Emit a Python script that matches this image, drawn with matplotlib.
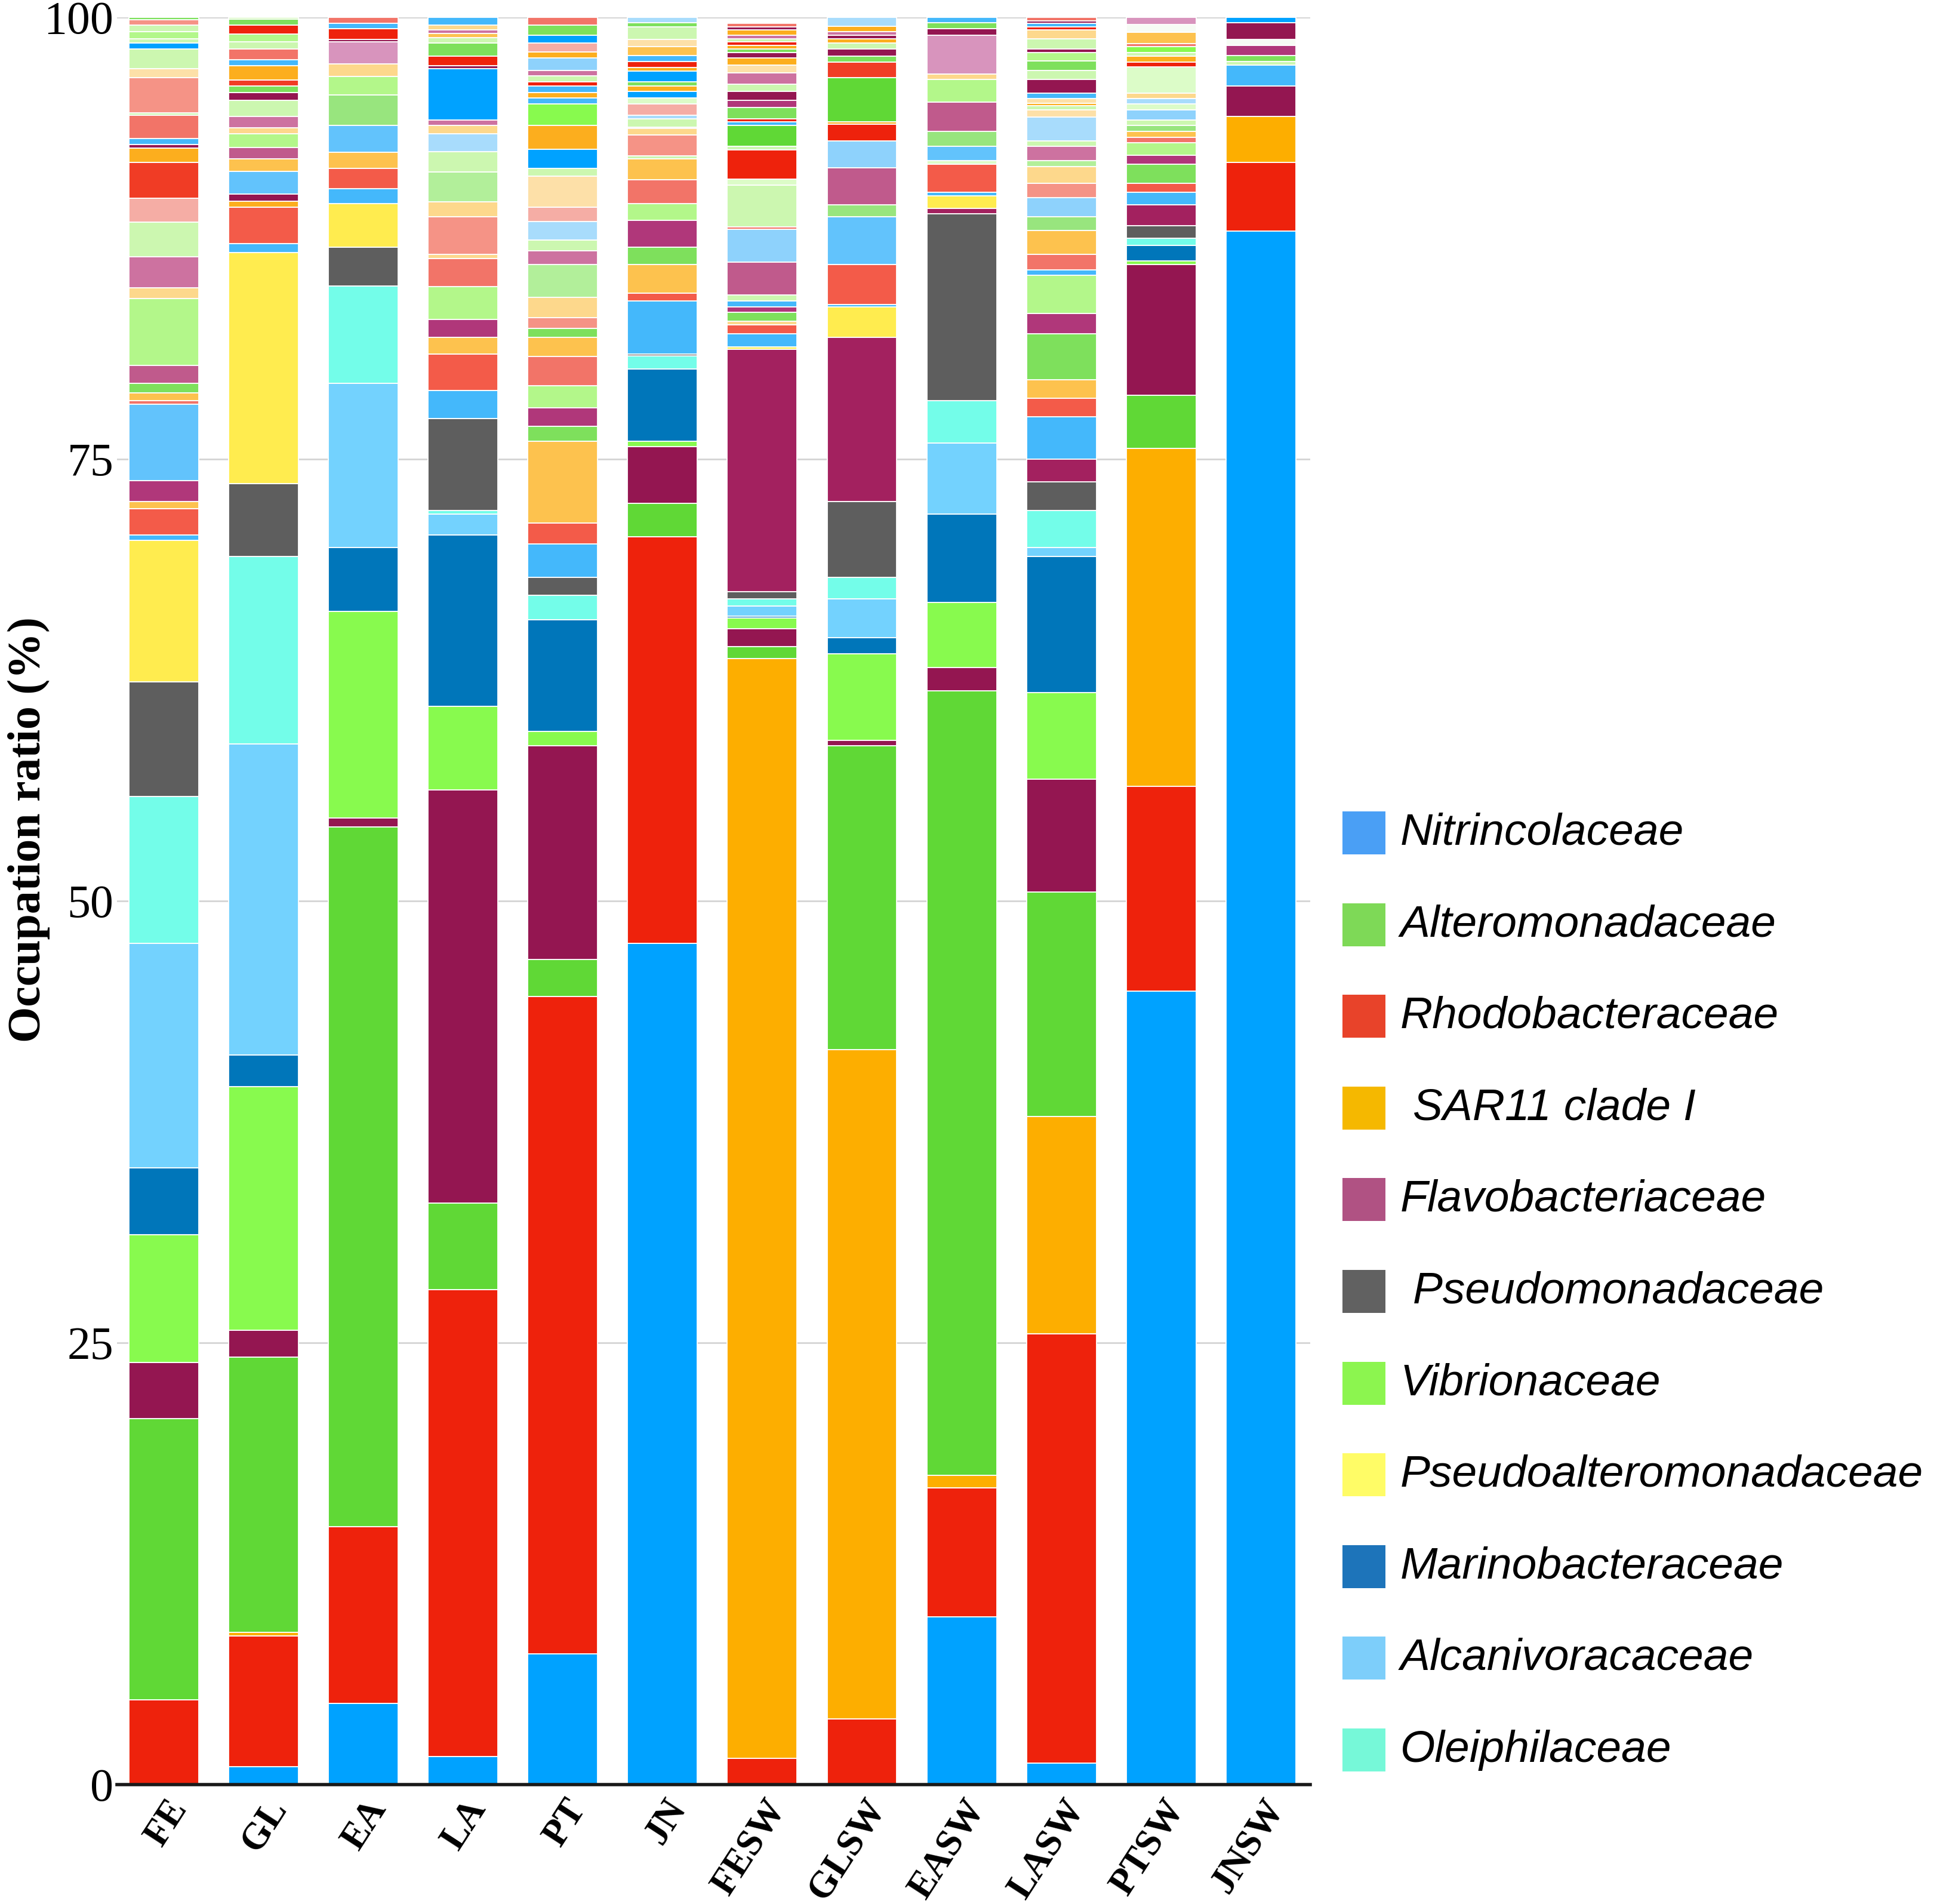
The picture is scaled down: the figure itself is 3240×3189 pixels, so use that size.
import numpy as np
import matplotlib
matplotlib.use("Agg")
import matplotlib.pyplot as plt
from matplotlib.patches import Rectangle
from matplotlib.transforms import ScaledTranslation

# sample sites on the x axis
samples = ["FE", "GL", "EA", "LA", "PT", "JN", "FESW", "GLSW", "EASW", "LASW", "PTSW", "JNSW"]

# main families (%), stacked from the bottom in this order
nitrincolaceae         = [0.0, 1.0, 4.6, 1.6, 7.4, 47.6, 0.0, 0.0, 9.5, 1.2, 44.9, 87.9]
rhodobacteraceae       = [4.8, 7.4, 10.0, 26.4, 37.2, 23.0, 1.5, 3.7, 7.3, 24.3, 11.6, 3.9]
sar11_clade_i          = [0.0, 0.2, 0.0, 0.0, 0.0, 0.0, 62.2, 37.9, 0.7, 12.3, 19.1, 2.6]
alteromonadaceae       = [15.9, 15.6, 39.6, 4.9, 2.1, 1.9, 0.7, 17.2, 44.4, 12.7, 3.0, 0.0]
flavobacteriaceae      = [3.2, 1.5, 0.5, 23.4, 12.1, 3.2, 1.0, 0.3, 1.3, 6.4, 7.4, 1.7]
vibrionaceae           = [7.2, 13.8, 11.7, 4.7, 0.8, 0.3, 0.6, 4.9, 3.7, 4.9, 0.2, 0.0]
marinobacteraceae      = [3.8, 1.8, 3.6, 9.7, 6.3, 4.1, 0.1, 0.9, 5.0, 7.7, 0.9, 0.0]
alcanivoracaceae       = [12.7, 17.6, 9.3, 1.2, 0.0, 0.0, 0.6, 2.2, 4.0, 0.5, 0.0, 0.0]
oleiphilaceae          = [8.3, 10.6, 5.5, 0.2, 1.4, 0.75, 0.4, 1.2, 2.4, 2.1, 0.4, 0.0]
pseudomonadaceae       = [6.5, 4.1, 2.2, 5.2, 1.0, 0.1, 0.4, 4.3, 10.6, 1.6, 0.7, 0.0]
unlabelled_family      = [0.0, 0.0, 0.0, 0.0, 0.0, 0.0, 13.7, 9.3, 0.3, 1.3, 1.2, 0.0]
pseudoalteromonadaceae = [8.0, 13.1, 2.45, 0.0, 0.0, 0.0, 0.15, 1.7, 0.7, 0.0, 0.0, 0.0]

# minor families on top of each bar (heights in %, bottom to top) and their colour keys
fe_minor = [0.3, 1.5, 0.4, 1.2, 4.3, 0.2, 0.45, 0.55, 1.0, 3.8, 0.6, 1.75, 1.95, 1.35, 2.05,
            0.8, 0.2, 0.35, 1.3, 0.15, 2.0, 0.5, 1.1, 0.35, 0.25, 0.4, 0.35, 0.3, 0.15]
fe_minor_keys = ["azure", "coral", "amber", "plum", "azure2", "salmon", "amber", "grass", "mauve",
                 "mint", "peach", "orchid", "pale", "blush", "scarlet", "tang", "maroon", "azure",
                 "salmon", "pale", "rose", "cream", "pale", "blue", "pale", "mint", "pale", "rose", "grass"]

gl_minor = [0.5, 2.05, 0.35, 0.4, 1.3, 0.7, 0.65, 0.75, 0.35, 0.65, 0.9, 0.45, 0.35, 0.35, 0.8,
            0.35, 0.6, 0.4, 0.45, 0.5, 0.35, 0.1]
gl_minor_keys = ["azure", "coral", "tang", "maroon", "azure2", "amber", "mauve", "mint", "peach",
                 "orchid", "pale", "maroon", "grass", "scarlet", "tang", "azure", "salmon", "pale",
                 "mint", "red", "grass", "pale"]

ea_minor = [0.85, 1.15, 0.9, 1.55, 1.7, 1.05, 0.7, 1.25, 0.15, 0.6, 0.3, 0.35]
ea_minor_keys = ["azure", "coral", "amber", "azure2", "fern", "mint", "peach", "lilac", "maroon",
                 "red", "azure", "salmon"]

la_minor = [1.6, 2.05, 0.95, 1.0, 1.85, 1.6, 0.25, 2.1, 0.85, 1.7, 1.15, 1.0, 0.5, 0.3, 2.9,
            0.15, 0.55, 0.75, 0.3, 0.25, 0.2, 0.25, 0.45]
la_minor_keys = ["azure", "coral", "amber", "plum", "mint", "salmon", "peach", "rose", "peach",
                 "sage", "pale", "ice", "peach", "orchid", "blue", "maroon", "red", "grass", "pale",
                 "amber", "orchid", "peach", "azure"]

pt_minor = [1.9, 1.2, 4.6, 0.85, 1.05, 1.25, 1.65, 1.1, 0.5, 0.6, 1.15, 1.85, 0.8, 0.6, 1.05,
            0.8, 1.75, 0.45, 1.1, 1.35, 1.2, 0.35, 0.3, 0.35, 0.25, 0.35, 0.3, 0.7, 0.35, 0.5,
            0.45, 0.55, 0.45]
pt_minor_keys = ["azure", "coral", "amber", "grass", "plum", "mint", "salmon", "amber", "grass",
                 "rose", "peach", "sage", "orchid", "pale", "ice", "blush", "cream", "pale", "blue",
                 "tang", "lime", "azure", "tang", "azure", "red", "pale", "orchid", "fog", "tang",
                 "blush", "blue", "grass", "salmon"]

jn_minor = [3.0, 0.45, 1.6, 1.0, 1.5, 0.95, 1.35, 1.2, 0.15, 1.2, 0.35, 0.1, 0.45, 0.2, 0.65,
            0.35, 0.35, 0.3, 0.25, 0.6, 0.2, 0.35, 0.35, 0.5, 0.4, 0.7, 0.25, 0.3]
jn_minor_keys = ["azure", "coral", "amber", "grass", "plum", "mint", "salmon", "amber", "pale",
                 "rose", "peach", "orchid", "pale", "ice", "blush", "honeydew", "blue", "tang",
                 "grass", "blue", "tang", "red", "azure", "amber", "cream", "pale", "grass", "ice"]

fesw_minor = [0.75, 0.5, 0.2, 0.5, 0.3, 0.35, 0.35, 1.85, 1.85, 0.15, 2.35, 0.35, 1.65, 0.2,
              1.2, 0.2, 0.15, 0.65, 0.4, 0.5, 0.4, 0.65, 0.45, 0.4, 0.3, 0.2, 0.2, 0.2, 0.2,
              0.2, 0.3, 0.15, 0.2]
fesw_minor_keys = ["azure", "coral", "peach", "grass", "plum", "azure", "pale", "mauve", "fog",
                   "salmon", "pale", "honeydew", "red", "pale", "green", "azure", "red", "grass",
                   "plum", "maroon", "pale", "orchid", "cream", "tang", "maroon", "grass", "tang",
                   "red", "pale", "orchid", "tang", "maroon", "salmon"]

glsw_minor = [0.15, 2.25, 2.7, 0.7, 2.1, 1.5, 0.95, 0.15, 2.5, 0.85, 0.35, 0.4, 0.35, 0.25,
              0.2, 0.2, 0.3, 0.5]
glsw_minor_keys = ["azure", "coral", "azure2", "fern", "mauve", "fog", "red", "tang", "green",
                   "scarlet", "grass", "maroon", "pale", "tang", "maroon", "orchid", "tang", "ice"]

easw_minor = [0.2, 1.6, 0.2, 0.8, 0.85, 1.65, 1.3, 0.3, 2.2, 0.35, 0.35, 0.3]
easw_minor_keys = ["azure", "coral", "honeydew", "azure2", "fern", "mauve", "mint", "peach",
                   "lilac", "maroon", "grass", "azure"]

lasw_minor = [2.4, 1.05, 1.05, 2.6, 1.15, 2.15, 0.3, 0.9, 1.35, 0.75, 1.1, 0.8, 0.95, 0.35,
              0.8, 0.3, 1.35, 0.4, 0.25, 0.15, 0.25, 0.3, 0.8, 0.5, 0.55, 0.45, 0.2, 0.6, 0.5,
              0.15, 0.2, 0.15, 0.2]
lasw_minor_keys = ["azure", "coral", "amber", "grass", "plum", "mint", "azure", "salmon", "amber",
                   "fern", "fog", "rose", "peach", "sage", "orchid", "pale", "ice", "cream", "pale",
                   "tang", "cream", "azure", "maroon", "pale", "grass", "mint", "maroon", "pale",
                   "peach", "red", "azure", "maroon", "salmon"]

ptsw_minor = [0.7, 0.5, 1.1, 0.5, 0.7, 0.3, 0.35, 0.35, 0.3, 0.55, 0.35, 0.3, 0.3, 1.5, 0.25,
              0.35, 0.2, 0.35, 0.15, 0.65, 0.45, 0.4]
ptsw_minor_keys = ["azure", "coral", "grass", "plum", "mint", "salmon", "amber", "fern", "pale",
                   "fog", "honeydew", "ice", "peach", "honeydew", "red", "tang", "pale", "lime",
                   "salmon", "amber", "snow", "lilac"]

jnsw_minor = [1.2, 0.2, 0.35, 0.55, 0.35, 0.95, 0.3]
jnsw_minor_keys = ["azure", "pale", "grass", "plum", "snow", "maroon", "blue"]

# legend
legend_names = ["Nitrincolaceae", "Alteromonadaceae", "Rhodobacteraceae", " SAR11 clade I",
                "Flavobacteriaceae", " Pseudomonadaceae", "Vibrionaceae", "Pseudoalteromonadaceae",
                "Marinobacteraceae", "Alcanivoracaceae", "Oleiphilaceae"]
legend_colors = ["#4a9ff5", "#7ed957", "#e8432a", "#f5b800", "#b05283", "#616161", "#8cf54f",
                 "#fffc66", "#1d74ba", "#7dcefa", "#76f8d8"]

# colours used in the bars
main_layers = [
    (nitrincolaceae, "#00a2ff"),
    (rhodobacteraceae, "#ee220c"),
    (sar11_clade_i, "#fdae00"),
    (alteromonadaceae, "#60d836"),
    (flavobacteriaceae, "#941651"),
    (vibrionaceae, "#88fa4e"),
    (marinobacteraceae, "#0076ba"),
    (alcanivoracaceae, "#73d2fe"),
    (oleiphilaceae, "#73fde9"),
    (pseudomonadaceae, "#5e5e5e"),
    (unlabelled_family, "#a3215f"),
    (pseudoalteromonadaceae, "#ffec4f"),
]
palette = {
    "blue": "#00a2ff", "red": "#ee220c", "green": "#60d836", "maroon": "#941651",
    "lime": "#88fa4e", "azure": "#44b8fb", "azure2": "#62c3fc", "coral": "#f35b49",
    "amber": "#fdc24e", "plum": "#b0377a", "mint": "#b3f78a", "salmon": "#f27468",
    "peach": "#fdd88c", "rose": "#f59386", "sage": "#b2ef9a", "pale": "#ccf7b0",
    "ice": "#a8dcfc", "blush": "#f5ada5", "cream": "#fde0a8", "orchid": "#cd72a0",
    "grass": "#7ee05c", "fern": "#98e57e", "mauve": "#c05a8c", "lilac": "#d894bd",
    "fog": "#8ed2fc", "tang": "#fcae1e", "scarlet": "#f03c25", "honeydew": "#dcfcc8",
    "snow": "#f6fbf4",
}
minor_layers = [(fe_minor, fe_minor_keys), (gl_minor, gl_minor_keys), (ea_minor, ea_minor_keys),
                (la_minor, la_minor_keys), (pt_minor, pt_minor_keys), (jn_minor, jn_minor_keys),
                (fesw_minor, fesw_minor_keys), (glsw_minor, glsw_minor_keys),
                (easw_minor, easw_minor_keys), (lasw_minor, lasw_minor_keys),
                (ptsw_minor, ptsw_minor_keys), (jnsw_minor, jnsw_minor_keys)]

W, H, DPI = 3241, 3189, 100
fig = plt.figure(figsize=(W / DPI, H / DPI), dpi=DPI)
ax = fig.add_axes([196 / W, 1 - 2989 / H, (2195 - 196) / W, (2989 - 29) / H])

x = np.arange(len(samples))
bar_w = 0.7
edge = dict(edgecolor="white", linewidth=1.3)

# main families
bottom = np.zeros(len(samples))
for values, color in main_layers:
    vals = np.array(values, dtype=float)
    ax.bar(x, vals, width=bar_w, bottom=bottom, color=color, **edge)
    bottom += vals

# minor families per bar
for i, (heights, keys) in enumerate(minor_layers):
    base = bottom[i]
    for h, k in zip(heights, keys):
        ax.bar(x[i], h, width=bar_w, bottom=base, color=palette[k], **edge)
        base += h

ax.set_xlim(-0.47, len(samples) - 0.505)
ax.set_ylim(0, 100)
ax.set_yticks([0, 25, 50, 75, 100])
ax.set_yticklabels(["0", "25", "50", "75", "100"], fontfamily="Liberation Serif", fontsize=56)
ax.tick_params(axis="y", length=0, pad=4)
ax.grid(axis="y", color="#d4d4d4", linewidth=2)
ax.set_axisbelow(True)
for s in ["top", "right", "left"]:
    ax.spines[s].set_visible(False)
ax.spines["bottom"].set_linewidth(4)
ax.spines["bottom"].set_color("#1a1a1a")

ax.set_xticks(x)
ax.set_xticklabels(samples, fontfamily="Liberation Serif", fontweight="bold", fontsize=45,
                   rotation=57, ha="right", va="center", rotation_mode="anchor")
ax.tick_params(axis="x", length=0, pad=22)
offset = ScaledTranslation(0.27, 0, fig.dpi_scale_trans)
for lab in ax.get_xticklabels():
    lab.set_transform(lab.get_transform() + offset)

fig.text(48 / W, 1 - 1390 / H, "Occupation ratio (%)", rotation=90, ha="center", va="center",
         fontfamily="Liberation Serif", fontweight="bold", fontsize=56)

# legend drawn beside the plot
row0, step, box = 1395, 153.6, 72
for j, (name, col) in enumerate(zip(legend_names, legend_colors)):
    yc = row0 + j * step
    fig.add_artist(Rectangle((2249 / W, 1 - (yc + box / 2) / H), box / W, box / H,
                             transform=fig.transFigure, facecolor=col, edgecolor="none"))
    fig.text(2346 / W, 1 - yc / H, name, ha="left", va="center", fontfamily="Liberation Sans",
             fontstyle="italic", fontsize=54)

fig.savefig("out.png", dpi=DPI, facecolor="white")
